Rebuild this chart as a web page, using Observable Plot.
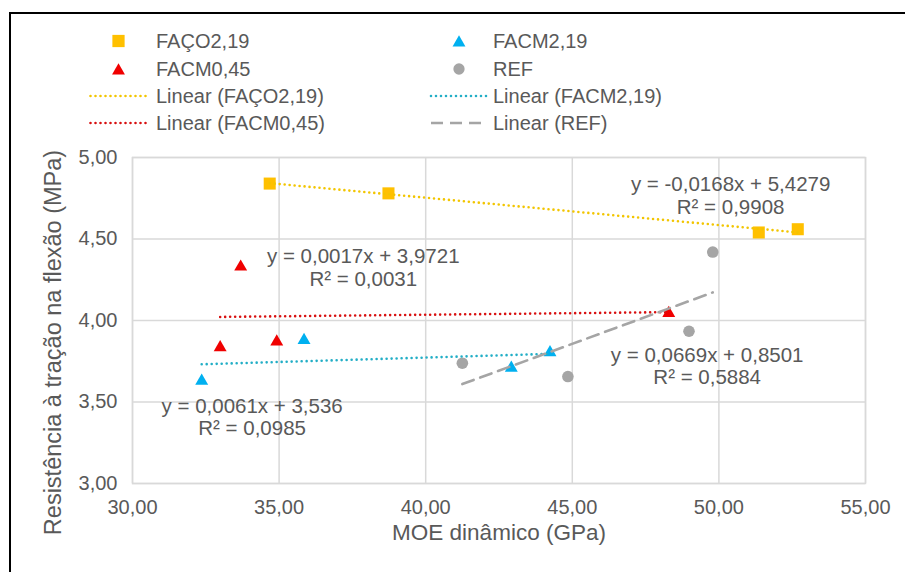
<!DOCTYPE html>
<html><head><meta charset="utf-8">
<script src="https://cdn.jsdelivr.net/npm/d3@7"></script>
<script src="https://cdn.jsdelivr.net/npm/@observablehq/plot@0.6"></script>
<style>
body{margin:0;background:#fff;font-family:"Liberation Sans",Arial,sans-serif;}
#wrap{position:relative;width:905px;height:572px;overflow:hidden;background:#fff}
#frame{position:absolute;left:9px;top:12px;width:900px;height:570px;border-left:2px solid #000;border-top:2px solid #000;}
#legend{position:absolute;left:0;top:0;}
#chart{position:absolute;left:0;top:140px}
</style></head>
<body><div id="wrap"><div id="frame"></div><svg id="legend" width="905" height="140"></svg><div id="chart"></div></div>
<script>
// ---- data ----
const seriesNames = ["FAÇO2,19", "FACM2,19", "FACM0,45", "REF"];
const seriesColors = ["#FFC000", "#00B0F0", "#F00000", "#A5A5A5"];
const trendColors = ["#F2C500", "#22AEC6", "#D81010", "#A5A5A5"];

const facoX = [34.68, 38.73, 51.36, 52.69];
const facoY = [4.84, 4.78, 4.54, 4.56];

const facm219X = [32.36, 35.85, 42.92, 44.24];
const facm219Y = [3.64, 3.89, 3.72, 3.815];

const facm045X = [33.69, 32.99, 34.92, 48.29];
const facm045Y = [4.34, 3.846, 3.881, 4.055];

const refX = [41.25, 44.85, 48.98, 49.79];
const refY = [3.738, 3.656, 3.934, 4.42];

const xTicks = [30, 35, 40, 45, 50, 55];
const yTicks = [3.0, 3.5, 4.0, 4.5, 5.0];

const eqTexts = [
  "y = -0,0168x + 5,4279\nR² = 0,9908",
  "y = 0,0017x + 3,9721\nR² = 0,0031",
  "y = 0,0061x + 3,536\nR² = 0,0985",
  "y = 0,0669x + 0,8501\nR² = 0,5884"
];
const eqX = [50.4, 37.87, 34.08, 49.6];
const eqY = [4.771, 4.329, 3.41, 3.723];

const xTitle = "MOE dinâmico (GPa)";
const yTitle = "Resistência à tração na flexão (MPa)";

// ---- tables ----
const toRows = (xs, ys) => xs.map((x, i) => ({x, y: ys[i]}));
const faco = toRows(facoX, facoY);
const facm219 = toRows(facm219X, facm219Y);
const facm045 = toRows(facm045X, facm045Y);
const ref = toRows(refX, refY);
const eqs = eqTexts.map((t, i) => ({t, x: eqX[i], y: eqY[i]}));

const fmt = d => d.toFixed(2).replace(".", ",");
const txt = "#595959";
const FONT = "Liberation Sans, Arial, sans-serif";

const dotted = (data, color) => Plot.linearRegressionY(data, {
  x: "x", y: "y", ci: 0, stroke: color, strokeWidth: 2.6,
  strokeDasharray: "0 5", strokeLinecap: "round"
});

const chart = Plot.plot({
  width: 905, height: 432,
  marginTop: 17, marginBottom: 89, marginLeft: 132, marginRight: 40,
  style: {fontFamily: FONT, fontSize: "20px", color: txt, background: "transparent", overflow: "visible"},
  x: {domain: [30, 55]},
  y: {domain: [3, 5]},
  marks: [
    Plot.gridX(xTicks, {stroke: "#D9D9D9", strokeOpacity: 1, strokeWidth: 1.5}),
    Plot.gridY(yTicks, {stroke: "#D9D9D9", strokeOpacity: 1, strokeWidth: 1.5}),
    Plot.frame({stroke: "#D9D9D9", strokeWidth: 1.5}),
    Plot.axisX(xTicks, {tickSize: 0, tickPadding: 16, tickFormat: fmt, label: null, fill: txt}),
    Plot.axisY(yTicks, {tickSize: 0, tickPadding: 15, tickFormat: fmt, label: null, fill: txt}),
    Plot.dot(faco, {x: "x", y: "y", symbol: "square", r: 6.8, fill: seriesColors[0]}),
    Plot.dot(facm219, {x: "x", y: "y", symbol: "triangle", r: 4.8, fill: seriesColors[1], dy: 1.8}),
    Plot.dot(facm045, {x: "x", y: "y", symbol: "triangle", r: 4.8, fill: seriesColors[2], dy: 1.8}),
    Plot.dot(ref, {x: "x", y: "y", symbol: "circle", r: 5.8, fill: seriesColors[3]}),
    dotted(faco, trendColors[0]),
    dotted(facm219, trendColors[1]),
    dotted(facm045, trendColors[2]),
    Plot.linearRegressionY(ref, {x: "x", y: "y", ci: 0, stroke: trendColors[3], strokeWidth: 2.6, strokeDasharray: "12 7"}),
    Plot.text(eqs, {x: "x", y: "y", text: "t", fontSize: 20.5, fill: txt, lineHeight: 1.12}),
    Plot.text([xTitle], {frameAnchor: "bottom", dy: 56, text: d => d, fill: txt, fontSize: 22.5}),
    Plot.text([yTitle], {frameAnchor: "left", textAnchor: "middle", dx: -79, dy: 22, rotate: -90, text: d => d, fill: txt, fontSize: 23.5})
  ]
});
document.getElementById("chart").appendChild(chart);

// ---- legend ----
const lg = d3.select("#legend");
const legendItems = [
  {label: seriesNames[0], kind: "symbol", sym: d3.symbolSquare, size: 150, color: seriesColors[0], col: 0, row: 0},
  {label: seriesNames[1], kind: "symbol", sym: d3.symbolTriangle, size: 72, color: seriesColors[1], col: 1, row: 0},
  {label: seriesNames[2], kind: "symbol", sym: d3.symbolTriangle, size: 72, color: seriesColors[2], col: 0, row: 1},
  {label: seriesNames[3], kind: "symbol", sym: d3.symbolCircle, size: 100, color: seriesColors[3], col: 1, row: 1},
  {label: "Linear (" + seriesNames[0] + ")", kind: "dot", color: trendColors[0], col: 0, row: 2},
  {label: "Linear (" + seriesNames[1] + ")", kind: "dot", color: trendColors[1], col: 1, row: 2},
  {label: "Linear (" + seriesNames[2] + ")", kind: "dot", color: trendColors[2], col: 0, row: 3},
  {label: "Linear (" + seriesNames[3] + ")", kind: "dash", color: trendColors[3], col: 1, row: 3}
];
const rowY = [41, 69, 96, 123];
const markX = [118.5, 459];
const textX = [156, 493];
for (const it of legendItems) {
  const cy = rowY[it.row], mx = markX[it.col];
  if (it.kind === "symbol") {
    const dyOff = it.sym === d3.symbolTriangle ? 1.8 : 0;
    lg.append("path").attr("d", d3.symbol(it.sym, it.size)())
      .attr("transform", `translate(${mx},${cy + dyOff})`).attr("fill", it.color);
  } else {
    lg.append("line").attr("x1", mx - 28).attr("x2", mx + 28).attr("y1", cy).attr("y2", cy)
      .attr("stroke", it.color).attr("stroke-width", 2.6)
      .attr("stroke-dasharray", it.kind === "dash" ? "12 7" : "0 5")
      .attr("stroke-linecap", it.kind === "dash" ? "butt" : "round");
  }
  lg.append("text").attr("x", textX[it.col]).attr("y", cy + 7.2)
    .attr("fill", txt).attr("font-size", 20).attr("font-family", FONT).text(it.label);
}
</script>
</body></html>
